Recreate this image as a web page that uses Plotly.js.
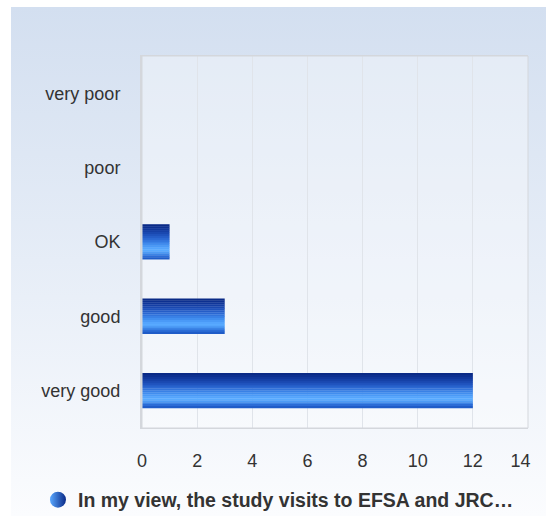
<!DOCTYPE html>
<html><head><meta charset="utf-8">
<script src="https://cdn.plot.ly/plotly-3.0.1.min.js"></script>
<style>
html,body{margin:0;padding:0;background:#fff;}
#bg{position:absolute;left:11px;top:7px;width:535px;height:509px;background:linear-gradient(to bottom,#d3dff0 0%,#e6edf7 50%,#fbfcfe 100%);}
#chart{position:absolute;left:0;top:0;width:546px;height:516px;}
</style></head><body>
<div id="bg"></div>
<div id="chart"></div>
<script>
const categories = ["very good", "good", "OK", "poor", "very poor"];
const values = [12, 3, 1, 0, 0];
const seriesName = "In my view, the study visits to EFSA and JRC…";
const xTicks = [0, 2, 4, 6, 8, 10, 12, 14];
const xTickLabels = ["0", "2", "4", "6", "8", "10", "12", "14\u00a0\u00a0\u00a0"];

const stripeColors = ["#0a2a86","#0d3090","#11379a","#153fa5","#1a48b0","#1f52bc","#255dc7","#2b68d2","#3274dc","#3981e6","#418eef","#4a9af7","#54a5fd","#58aaff","#4c9bf5","#3b84e6","#2b6cd6","#1f5cc8"];
const barWidth = 0.47;
const n = stripeColors.length;
const sw = barWidth / n;
const traces = stripeColors.map((c, i) => ({
  type: "bar", orientation: "h",
  x: values, y: categories,
  width: sw * 1.15,
  offset: barWidth / 2 - (i + 1) * sw,
  marker: {color: c, line: {width: 0}},
  showlegend: false, hoverinfo: "skip"
}));
traces.push({
  type: "scatter", mode: "markers", x: [null], y: [null],
  name: seriesName, showlegend: true,
  marker: {symbol: "circle", size: 18, color: "#5aa8ff",
           gradient: {type: "horizontal", color: "#0a2a88"}, line: {width: 0}}
});

const layout = {
  width: 546, height: 516,
  margin: {l: 142, r: 18, t: 56, b: 88},
  paper_bgcolor: "rgba(0,0,0,0)",
  plot_bgcolor: "rgba(255,255,255,0.35)",
  barmode: "overlay",
  font: {family: "Liberation Sans, Arial, sans-serif", size: 18, color: "#333"},
  xaxis: {range: [0, 14], tickvals: xTicks, ticktext: xTickLabels, showgrid: true, gridcolor: "#e0e4ea", gridwidth: 1,
          zeroline: false, showline: true, linecolor: "#d4d7dc", mirror: true, ticks: "",
          ticklabelstandoff: 16, ticklabeloverflow: "allow", fixedrange: true, automargin: false},
  yaxis: {type: "category", categoryorder: "array", categoryarray: categories,
          showgrid: false, zeroline: false, showline: true, linecolor: "#d4d7dc", linewidth: 2, mirror: false,
          ticks: "", ticklabelstandoff: 16, fixedrange: true, automargin: false},
  shapes: [{type: "rect", xref: "paper", yref: "paper", x0: 0, x1: 1, y0: 0, y1: 1,
            line: {color: "#d4d7dc", width: 1}}],
  showlegend: true,
  legend: {orientation: "h", x: 0.51, xref: "container", xanchor: "center", y: 0.031, yref: "container", yanchor: "middle",
           font: {size: 19.5, color: "#333", weight: "bold"}, bgcolor: "rgba(0,0,0,0)",
           itemwidth: 30}
};
Plotly.newPlot("chart", traces, layout, {displayModeBar: false, staticPlot: true});
</script>
</body></html>
